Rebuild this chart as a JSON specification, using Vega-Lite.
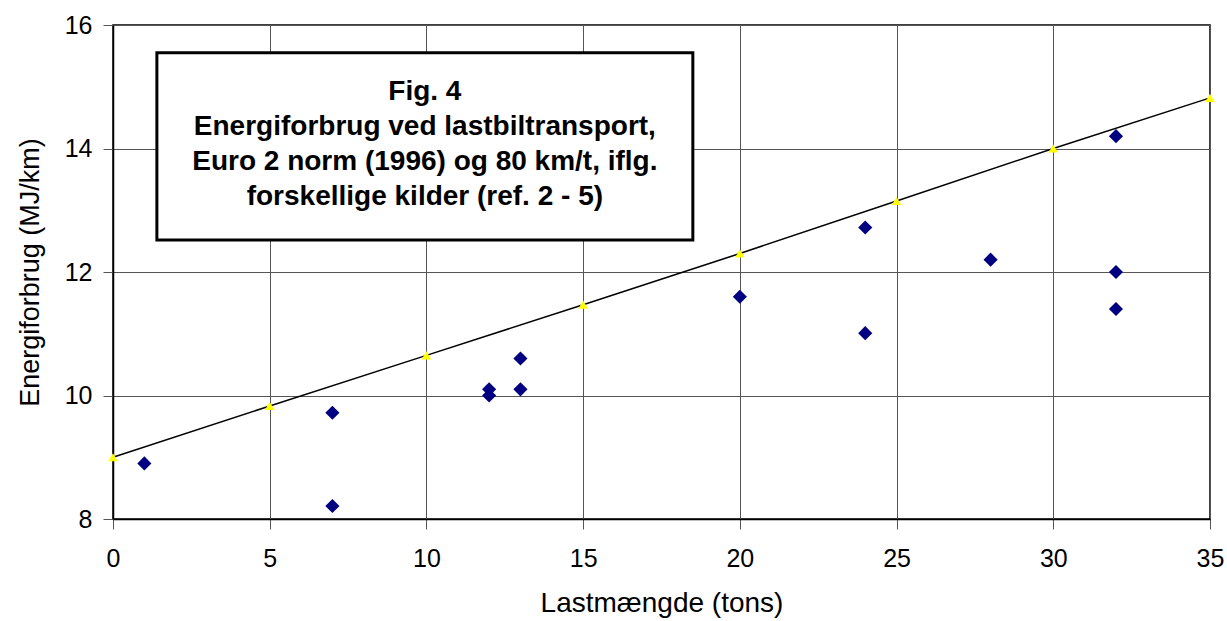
{
  "$schema": "https://vega.github.io/schema/vega-lite/v6.json",
  "width": 1097,
  "height": 494,
  "autosize": {"type": "none"},
  "padding": {"left": 113, "top": 25, "right": 17, "bottom": 102},
  "background": "white",
  "config": {
    "font": "Liberation Sans",
    "view": {"stroke": "black", "strokeWidth": 1.5}
  },
  "datasets": {
    "diamonds": [
      {"last": 1, "energi": 8.9},
      {"last": 7, "energi": 9.72},
      {"last": 7, "energi": 8.21},
      {"last": 12, "energi": 10.1},
      {"last": 12, "energi": 10.0},
      {"last": 13, "energi": 10.6},
      {"last": 13, "energi": 10.1},
      {"last": 20, "energi": 11.6},
      {"last": 24, "energi": 12.72},
      {"last": 24, "energi": 11.01},
      {"last": 28, "energi": 12.2},
      {"last": 32, "energi": 14.2},
      {"last": 32, "energi": 12.0},
      {"last": 32, "energi": 11.4}
    ],
    "trend": [
      {"last": 0, "energi": 9.0},
      {"last": 5, "energi": 9.83},
      {"last": 10, "energi": 10.65},
      {"last": 15, "energi": 11.47},
      {"last": 20, "energi": 12.3},
      {"last": 25, "energi": 13.15},
      {"last": 30, "energi": 14.0},
      {"last": 35, "energi": 14.82}
    ]
  },
  "layer": [
    {
      "data": {"values": [{}]},
      "mark": {"type": "rect", "fill": "white", "stroke": "black", "strokeWidth": 3},
      "encoding": {
        "x": {"datum": 1.4, "type": "quantitative", "scale": {"domain": [0, 35], "nice": false},
          "axis": {"title": "Lastmængde (tons)", "values": [0, 5, 10, 15, 20, 25, 30, 35], "format": "d",
            "labelFont": "Liberation Sans", "titleFont": "Liberation Sans", "labelFontSize": 25, "titleFontSize": 28,
            "titleFontWeight": "normal", "labelColor": "black", "titleColor": "black", "labelFlush": false, "labelOverlap": false,
            "domainColor": "black", "domainWidth": 1.5, "tickColor": "#555", "tickSize": 10,
            "gridColor": "#555", "gridWidth": 1, "gridOpacity": 1,
            "labelPadding": 17, "titlePadding": 18, "grid": true}},
        "x2": {"datum": 18.5},
        "y": {"datum": 15.55, "type": "quantitative", "scale": {"domain": [8, 16], "nice": false},
          "axis": {"title": "Energiforbrug (MJ/km)", "values": [8, 10, 12, 14, 16], "format": "d",
            "labelFont": "Liberation Sans", "titleFont": "Liberation Sans", "labelFontSize": 25, "titleFontSize": 27,
            "titleFontWeight": "normal", "labelColor": "black", "titleColor": "black", "labelFlush": false, "labelOverlap": false,
            "domainColor": "black", "domainWidth": 1.5, "tickColor": "#555", "tickSize": 10,
            "gridColor": "#555", "gridWidth": 1, "gridOpacity": 1,
            "labelPadding": 11, "titlePadding": 20, "grid": true}},
        "y2": {"datum": 12.52}
      }
    },
    {
      "data": {"values": [{}]},
      "mark": {
        "type": "text",
        "text": ["Fig. 4", "Energiforbrug ved lastbiltransport,", "Euro 2 norm (1996) og 80 km/t, iflg.", "forskellige kilder (ref. 2 - 5)"],
        "font": "Liberation Sans",
        "fontWeight": "bold",
        "fontSize": 28,
        "lineHeight": 35,
        "align": "center",
        "baseline": "middle",
        "color": "black"
      },
      "encoding": {
        "x": {"datum": 9.95, "type": "quantitative"},
        "y": {"datum": 14.91, "type": "quantitative"}
      }
    },
    {
      "data": {"name": "trend"},
      "mark": {"type": "line", "color": "black", "strokeWidth": 1.5},
      "encoding": {
        "x": {"field": "last", "type": "quantitative"},
        "y": {"field": "energi", "type": "quantitative"}
      }
    },
    {
      "data": {"name": "trend"},
      "mark": {"type": "point", "shape": "triangle-up", "filled": true, "color": "#FFFF00", "size": 90, "opacity": 1},
      "encoding": {
        "x": {"field": "last", "type": "quantitative"},
        "y": {"field": "energi", "type": "quantitative"}
      }
    },
    {
      "data": {"name": "diamonds"},
      "mark": {"type": "point", "shape": "diamond", "filled": true, "color": "#000080", "size": 200, "opacity": 1},
      "encoding": {
        "x": {"field": "last", "type": "quantitative"},
        "y": {"field": "energi", "type": "quantitative"}
      }
    }
  ]
}
